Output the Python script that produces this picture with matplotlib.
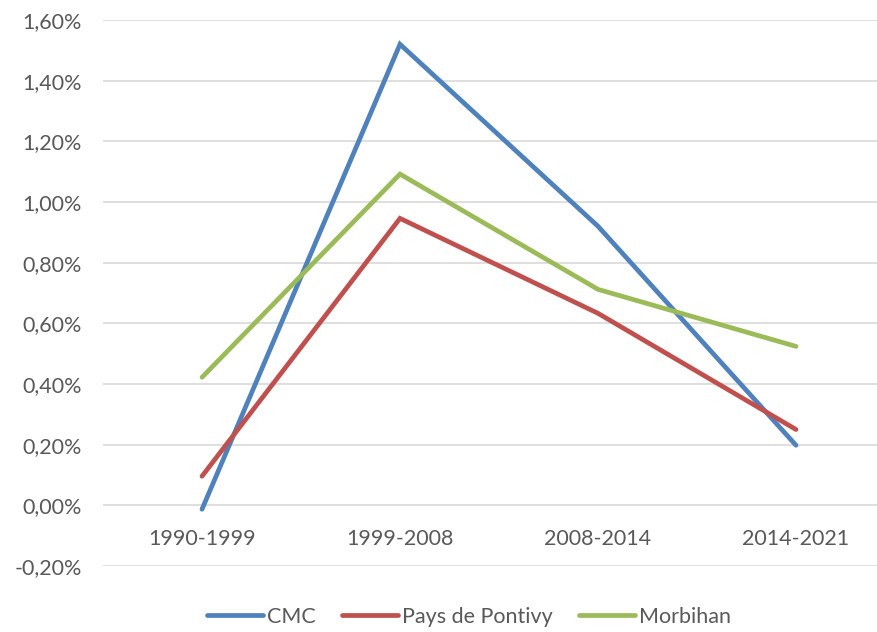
import matplotlib
matplotlib.use("Agg")
import matplotlib.pyplot as plt
from matplotlib.ticker import FuncFormatter

periods = ["1990-1999", "1999-2008", "2008-2014", "2014-2021"]
cmc = [-0.013, 1.52, 0.92, 0.198]
pontivy = [0.096, 0.946, 0.633, 0.25]
morbihan = [0.422, 1.092, 0.712, 0.524]

series = [
    ("CMC", cmc, "#4F81BD"),
    ("Pays de Pontivy", pontivy, "#C0504D"),
    ("Morbihan", morbihan, "#9BBB59"),
]

plt.rcParams["font.family"] = ["Lato", "DejaVu Sans"]
TEXT = "#595959"
FS = 15.5

W, H = 878, 632
fig = plt.figure(figsize=(W / 100, H / 100), dpi=100)
ax = fig.add_axes([103 / W, (H - 566) / H, (895 - 103) / W, (566 - 20) / H])

x = range(len(periods))
for name, vals, color in series:
    ax.plot(x, vals, color=color, linewidth=3.4, label=name,
            solid_capstyle="round", solid_joinstyle="miter")

ax.set_xlim(-0.5, len(periods) - 0.5)
ax.set_ylim(-0.2, 1.6)
ax.set_yticks([i * 0.2 for i in range(-1, 9)])
ax.yaxis.set_major_formatter(
    FuncFormatter(lambda v, _: f"{v:.2f}%".replace(".", ","))
)
ax.set_xticks(list(x))
ax.set_xticklabels(periods)
ax.tick_params(axis="both", length=0, labelsize=FS, labelcolor=TEXT)
ax.tick_params(axis="y", pad=15)
ax.tick_params(axis="x", pad=17)
ax.grid(axis="y", color="#D9D9D9", linewidth=1.2)
ax.set_axisbelow(True)
for s in ax.spines.values():
    s.set_visible(False)
# category labels hang under the zero line, as in the original
ax.spines["bottom"].set_position(("data", 0))

fig.legend(loc="center", bbox_to_anchor=(469 / W, 1 - 617 / H), ncol=3,
           frameon=False, fontsize=FS, handlelength=2.6,
           handletextpad=0.2, columnspacing=1.2, labelcolor=TEXT)

fig.savefig("out.png", dpi=100)
